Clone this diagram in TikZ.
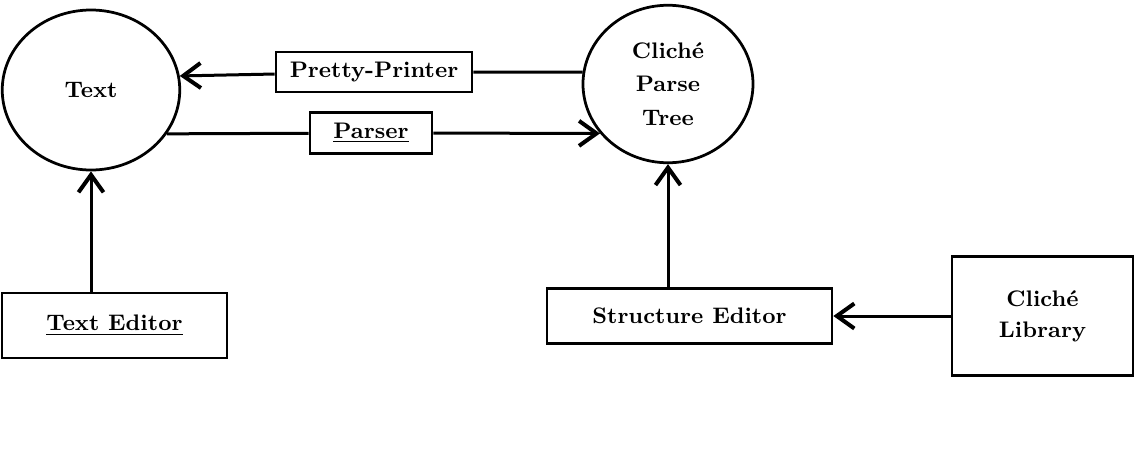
\documentclass[tikz,border=0pt]{standalone}
\usetikzlibrary{shapes.geometric,arrows.meta}

\tikzset{
  blob/.style={draw, ellipse, line width=1.1pt, inner sep=0pt, align=center},
  tool/.style={draw, rectangle, line width=1.1pt, inner sep=0pt, align=center},
  flow/.style={line width=1.2pt, -{Straight Barb[length=7pt,width=10pt,line width=1.6pt]}}
}

\begin{document}
\begin{tikzpicture}[x=0.4pt, y=-0.4pt, font=\fontsize{9}{12.5}\selectfont\bfseries]
  \useasboundingbox (0,0) rectangle (1142,468);
  \node (T)   [blob, minimum width=71pt, minimum height=64pt] at (91,90) {Text};
  \node (CPT) [blob, minimum width=68pt, minimum height=63pt,
               font=\fontsize{9}{13.5}\selectfont\bfseries] at (668,84) {Clich\'e\\Parse\\Tree};
  \node (PP)  [tool, minimum width=78.4pt, minimum height=16pt] at (374,72) {Pretty-Printer};
  \node (PA)  [tool, minimum width=48.8pt, minimum height=16.4pt] at (371,133) {\underline{Parser}};
  \node (TE)  [tool, minimum width=90pt, minimum height=26pt] at (114.5,325.5) {\underline{Text Editor}};
  \node (SE)  [tool, minimum width=114pt, minimum height=22pt] at (689.5,316) {Structure Editor};
  \node (CL)  [tool, minimum width=72.4pt, minimum height=47.6pt] at (1042.5,316) {Clich\'e\\Library};
  \path[flow]
    (CPT.172) edge[-] (PP)
    (PP)      edge (T.9)
    (T.-30)   edge[-] (PA)
    (PA)      edge (CPT.216)
    (TE.north -| T.south)   edge (T.south)
    (SE.north -| CPT.south) edge (CPT.south)
    (CL)      edge (SE);
\end{tikzpicture}
\end{document}
